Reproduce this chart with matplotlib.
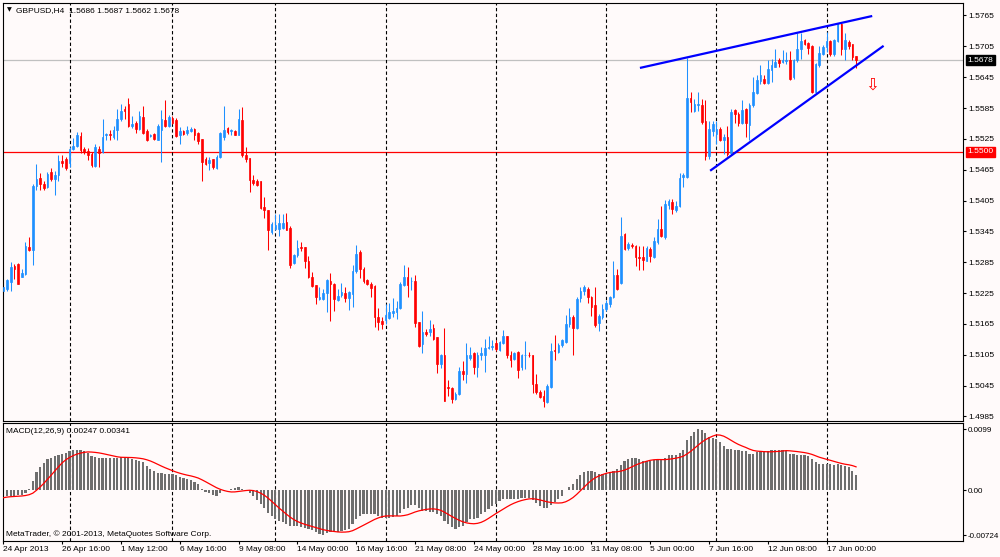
import matplotlib
matplotlib.use("Agg")
import matplotlib.pyplot as plt
import numpy as np
import pandas as pd

# ---------------- data (prices in 1e-4 units, i.e. pips) ----------------
open_pips = [
15230,15233,15246,15277,15282,15257,15263,15314,15308,15434,
15449,15438,15431,15460,15447,15454,15482,15486,15478,15506,
15512,15530,15506,15502,15495,15473,15506,15499,15532,15535,
15528,15543,15564,15583,15593,15551,15555,15544,15568,15541,
15530,15535,15523,15543,15562,15551,15566,15562,15532,15540,
15536,15540,15544,15536,15525,15486,15478,15486,15469,15489,
15528,15546,15540,15541,15533,15562,15493,15488,15445,15443,
15444,15393,15387,15344,15350,15350,15352,15363,15352,15283,
15300,15314,15314,15287,15257,15240,15214,15214,15225,15249,
15243,15212,15222,15225,15216,15223,15268,15304,15272,15251,
15242,15238,15179,15170,15173,15177,15186,15188,15196,15240,
15256,15248,15249,15168,15126,15149,15149,15157,15139,15087,
15104,15043,15041,15019,15028,15073,15068,15099,15108,15081,
15104,15105,15118,15120,15128,15115,15128,15142,15105,15097,
15110,15081,15104,15105,15105,15048,15032,15024,15013,15042,
15115,15110,15125,15129,15164,15179,15157,15216,15230,15233,
15217,15201,15166,15178,15194,15204,15217,15261,15244,15340,
15313,15319,15317,15296,15296,15288,15311,15295,15324,15350,
15334,15397,15402,15386,15395,15450,15450,15605,15580,15590,
15590,15560,15492,15541,15535,15544,15522,15528,15497,15581,
15574,15555,15584,15552,15590,15614,15638,15642,15634,15658,
15665,15679,15675,15677,15679,15645,15678,15699,15717,15711,
15705,15616,15668,15691,15704,15715,15690,15715,15749,15700,
15713,15709,15686]
high_pips = [
15246,15253,15285,15282,15283,15272,15324,15334,15438,15476,
15458,15443,15460,15468,15463,15493,15493,15489,15509,15527,
15538,15538,15509,15508,15499,15515,15512,15564,15536,15543,
15551,15583,15592,15588,15605,15570,15559,15579,15588,15544,
15535,15536,15554,15581,15600,15572,15570,15566,15549,15543,
15551,15548,15546,15538,15525,15489,15489,15486,15493,15538,
15588,15548,15544,15543,15583,15587,15509,15488,15454,15447,
15444,15412,15387,15363,15378,15378,15378,15381,15355,15302,
15328,15324,15315,15298,15266,15240,15236,15233,15253,15264,
15244,15233,15244,15236,15230,15279,15319,15309,15275,15253,
15246,15240,15196,15179,15204,15205,15216,15209,15246,15279,
15275,15256,15261,15168,15190,15155,15173,15164,15139,15107,
15157,15056,15043,15032,15081,15093,15128,15120,15110,15110,
15121,15136,15141,15133,15134,15131,15153,15142,15112,15110,
15112,15107,15131,15110,15105,15067,15037,15037,15048,15128,
15144,15128,15136,15183,15196,15183,15218,15236,15240,15236,
15220,15236,15185,15204,15211,15220,15288,15272,15373,15341,
15324,15322,15319,15316,15317,15316,15314,15334,15369,15395,
15406,15408,15408,15405,15458,15458,15682,15616,15603,15616,
15603,15601,15560,15560,15560,15548,15535,15551,15584,15584,
15577,15601,15586,15594,15645,15649,15668,15649,15679,15681,
15699,15683,15697,15694,15696,15681,15730,15730,15720,15713,
15707,15673,15705,15707,15733,15718,15720,15750,15750,15731,
15718,15710,15687]
low_pips = [
15222,15230,15230,15253,15242,15256,15261,15306,15279,15426,
15425,15425,15430,15444,15415,15444,15470,15465,15470,15504,
15510,15497,15495,15483,15471,15470,15471,15497,15522,15522,
15524,15523,15559,15564,15548,15546,15536,15543,15535,15521,
15528,15522,15522,15480,15548,15549,15554,15528,15515,15532,
15532,15538,15523,15515,15443,15475,15465,15467,15467,15488,
15522,15535,15532,15532,15532,15489,15480,15421,15436,15434,
15389,15371,15309,15340,15347,15337,15350,15347,15274,15282,
15296,15306,15274,15255,15236,15204,15212,15212,15188,15170,
15190,15209,15218,15207,15192,15198,15264,15255,15244,15240,
15218,15159,15153,15155,15164,15175,15179,15175,15194,15238,
15217,15231,15160,15121,15108,15142,15142,15134,15069,15080,
15015,15024,15011,15017,15026,15056,15050,15095,15067,15062,
15095,15071,15117,15115,15113,15113,15126,15099,15082,15094,
15060,15076,15078,15100,15030,15029,15021,15004,15011,15041,
15095,15108,15121,15128,15160,15105,15155,15207,15222,15205,
15181,15160,15152,15175,15191,15198,15216,15231,15243,15309,
15309,15313,15277,15269,15269,15287,15285,15293,15321,15334,
15330,15389,15378,15382,15392,15431,15449,15577,15577,15579,
15554,15484,15486,15531,15515,15520,15496,15492,15494,15555,
15551,15553,15529,15522,15587,15613,15632,15631,15632,15636,
15664,15665,15673,15671,15639,15642,15675,15681,15707,15691,
15614,15613,15665,15688,15694,15686,15686,15713,15688,15678,
15699,15678,15662]
close_pips = [
15237,15251,15276,15272,15243,15264,15316,15308,15434,15447,
15438,15430,15457,15447,15454,15482,15478,15469,15506,15512,
15532,15504,15499,15493,15475,15509,15498,15528,15535,15532,
15543,15564,15580,15580,15551,15554,15544,15570,15536,15522,
15533,15525,15551,15564,15551,15568,15555,15530,15541,15535,
15543,15544,15532,15521,15480,15476,15484,15470,15489,15536,
15543,15538,15543,15533,15564,15493,15486,15445,15439,15436,
15391,15387,15347,15360,15358,15361,15361,15348,15280,15300,
15313,15312,15287,15256,15239,15217,15218,15225,15251,15242,
15214,15220,15227,15216,15227,15268,15302,15272,15249,15242,
15235,15178,15168,15164,15183,15188,15190,15196,15242,15256,
15240,15249,15166,15123,15149,15146,15155,15136,15087,15105,
15016,15041,15019,15028,15074,15067,15104,15105,15081,15105,
15108,15118,15121,15123,15117,15129,15141,15104,15095,15108,
15076,15105,15105,15104,15048,15032,15023,15016,15045,15113,
15112,15125,15134,15165,15179,15157,15214,15230,15236,15217,
15198,15162,15181,15194,15205,15218,15261,15233,15337,15311,
15321,15316,15295,15293,15290,15313,15298,15327,15350,15337,
15398,15404,15389,15395,15449,15454,15605,15596,15592,15592,
15557,15492,15544,15554,15544,15522,15528,15496,15577,15573,
15555,15582,15555,15590,15616,15639,15649,15634,15660,15668,
15675,15673,15678,15679,15642,15678,15699,15715,15710,15702,
15616,15670,15692,15704,15715,15690,15718,15748,15699,15717,
15705,15684,15678]
# MACD(12,26,9) main line, in 1e-4 units
macd_pips = [
-12,-10,-9,-9,-8,-7,-4,2,
15,30,38,44,50,52,55,57,59,60,63,65,
66,65,63,61,55,54,53,53,53,53,
53,53,54,54,53,51,49,47,45,39,
35,31,28,28,27,27,26,25,22,20,
18,17,14,10,2,-2,-5,-7,-9,-5,
-1,1,2,3,5,2,-1,-5,-10,-15,
-22,-29,-37,-42,-47,-50,-51,-54,-57,-58,
-58,-59,-61,-63,-65,-67,-70,-72,-69,-67,
-66,-67,-66,-64,-62,-55,-47,-42,-39,-38,
-38,-39,-42,-44,-45,-45,-43,-41,-37,-31,
-28,-23,-23,-29,-33,-33,-35,-35,-38,-42,
-50,-54,-60,-62,-60,-57,-51,-47,-46,-44,
-39,-35,-30,-25,-22,-18,-14,-14,-14,-14,
-14,-13,-12,-12,-15,-21,-25,-28,-28,-23,
-19,-14,-9,0,6,10,18,25,30,32,
32,29,26,27,28,30,32,34,41,47,
51,52,52,50,48,48,48,49,50,50,
52,57,57,57,60,65,81,88,95,99,
98,93,86,84,83,78,72,67,67,66,
65,63,63,59,59,62,63,63,64,65,
66,66,65,64,59,58,57,57,57,55,
51,45,43,43,43,43,41,42,41,39,
37,31,25]
signal_period = 9

date_tick_bars = [0, 16, 32, 48, 64, 80, 96, 112, 128, 144, 160, 176, 192, 208, 224]
date_labels = ["24 Apr 2013", "26 Apr 16:00", "1 May 12:00", "6 May 16:00",
               "9 May 08:00", "14 May 00:00", "16 May 16:00", "21 May 08:00",
               "24 May 00:00", "28 May 16:00", "31 May 08:00", "5 Jun 00:00",
               "7 Jun 16:00", "12 Jun 08:00", "17 Jun 00:00"]
week_separator_bars = [18, 46, 74, 104, 134, 164, 194, 224]
price_ticks = [1.5765, 1.5705, 1.5645, 1.5585, 1.5525, 1.5465, 1.5405,
               1.5345, 1.5285, 1.5225, 1.5165, 1.5105, 1.5045, 1.4985]
price_tick_labels = ["1.5765", "1.5705", "1.5645", "1.5585", "1.5525", "1.5465",
                     "1.5405", "1.5345", "1.5285", "1.5225", "1.5165", "1.5105",
                     "1.5045", "1.4985"]
macd_ticks = [0.0099, 0.0, -0.00724]
macd_tick_labels = ["0.0099", "0.00", "-0.00724"]
support_level = 1.5500
bid_level = 1.5678
upper_trend_bars = [173.2, 236.4]
upper_trend_prices = [1.5663, 1.5764]
lower_trend_bars = [192.3, 239.5]
lower_trend_prices = [1.5463, 1.5706]
arrow_bar, arrow_price = 236.4, 1.5630
title_text = "GBPUSD,H4  1.5686 1.5687 1.5662 1.5678"
macd_text = "MACD(12,26,9) 0.00247 0.00341"
copyright_text = "MetaTrader, \u00a9 2001-2013, MetaQuotes Software Corp."

# ---------------- derived ----------------
o = np.array(open_pips) / 1e4
h = np.array(high_pips) / 1e4
l = np.array(low_pips) / 1e4
c = np.array(close_pips) / 1e4
macd = np.array(macd_pips) / 1e4
signal = pd.Series(macd).rolling(signal_period, min_periods=1).mean().values
idx = np.arange(len(c))

BULL = "#1e90ff"
BEAR = "#ff0000"
BG = "#fffafa"
FONT = "Liberation Sans"
FS = 6.0

plt.rcParams["font.family"] = [FONT, "DejaVu Sans"]

W, H = 1000, 557
fig = plt.figure(figsize=(W / 100, H / 100), dpi=100, facecolor=BG)
ax = fig.add_axes([3 / W, 1 - 421 / H, 960 / W, 418 / H], facecolor=BG)
ax2 = fig.add_axes([3 / W, 1 - 541 / H, 960 / W, 118 / H], facecolor=BG)

xlim = (-0.1, 261.1)

# --- main price panel ---
ax.axhline(support_level, color="#ff0000", lw=0.9, zorder=1)
ax.axhline(bid_level, color="#c0c0c0", lw=0.9, zorder=1)
for s in week_separator_bars:
    ax.axvline(s, color="black", lw=0.8, ls=(0, (3, 2.2)), zorder=1)

cols = np.where(c >= o, BULL, BEAR)
ax.vlines(idx, l, h, colors=cols, lw=0.75, zorder=2)
ax.bar(idx, np.abs(c - o), bottom=np.minimum(o, c), width=0.45,
       color=cols, edgecolor=cols, linewidth=0.5, zorder=3)

ax.plot(upper_trend_bars, upper_trend_prices, color="#0000ff", lw=1.6, zorder=4,
        solid_capstyle="butt")
ax.plot(lower_trend_bars, lower_trend_prices, color="#0000ff", lw=1.6, zorder=4,
        solid_capstyle="butt")
ax.text(arrow_bar, arrow_price, "\u21e9", color="#ff0000", fontsize=12,
        ha="center", va="center", family="DejaVu Sans", zorder=5)

ax.set_xlim(*xlim)
ax.set_ylim(1.49762, 1.57893)
ax.yaxis.tick_right()
ax.set_yticks(price_ticks)
ax.set_yticklabels(price_tick_labels)
ax.tick_params(axis="y", direction="out", length=2.5, width=0.8, pad=1.2,
               labelsize=FS, colors="black")
ax.set_xticks([])
for sp in ax.spines.values():
    sp.set_color("black")
    sp.set_linewidth(0.8)

ytr = ax.get_yaxis_transform()
ax.text(1.0045, bid_level, "1.5678", transform=ytr, fontsize=FS, color="white",
        ha="left", va="center",
        bbox=dict(boxstyle="square,pad=0.2", fc="black", ec="black"), zorder=6,
        clip_on=False)
ax.text(1.0045, support_level, "1.5500", transform=ytr, fontsize=FS, color="white",
        ha="left", va="center",
        bbox=dict(boxstyle="square,pad=0.2", fc="#ff0000", ec="#ff0000"), zorder=6,
        clip_on=False)

ax.text(0.0068, 0.983, "\u25bc", transform=ax.transAxes, fontsize=4.5,
        family="DejaVu Sans", ha="center", va="center")
ax.text(0.0135, 0.983, title_text, transform=ax.transAxes, fontsize=FS,
        ha="left", va="center")

# --- MACD panel ---
for s in week_separator_bars:
    ax2.axvline(s, color="black", lw=0.8, ls=(0, (3, 2.2)), zorder=1)
ax2.bar(idx, macd, width=0.6, color="#6e6e6e", zorder=2)
ax2.plot(idx, signal, color="#ff0000", lw=0.9, zorder=3)
ax2.set_xlim(*xlim)
ax2.set_ylim(-0.0082, 0.01089)
ax2.yaxis.tick_right()
ax2.set_yticks(macd_ticks)
ax2.set_yticklabels(macd_tick_labels)
ax2.tick_params(axis="y", direction="out", length=2.5, width=0.8, pad=1.0,
                labelsize=FS - 0.2, colors="black")
ax2.set_xticks(date_tick_bars)
ax2.set_xticklabels(date_labels, ha="left")
ax2.tick_params(axis="x", direction="out", length=2.5, width=0.8, pad=1.2,
                labelsize=FS, colors="black")
for sp in ax2.spines.values():
    sp.set_color("black")
    sp.set_linewidth(0.8)
ax2.text(0.003, 0.932, macd_text, transform=ax2.transAxes, fontsize=FS,
         ha="left", va="center")
ax2.text(0.003, 0.057, copyright_text, transform=ax2.transAxes, fontsize=FS,
         ha="left", va="center")

fig.savefig("out.png", dpi=100, facecolor=BG)
